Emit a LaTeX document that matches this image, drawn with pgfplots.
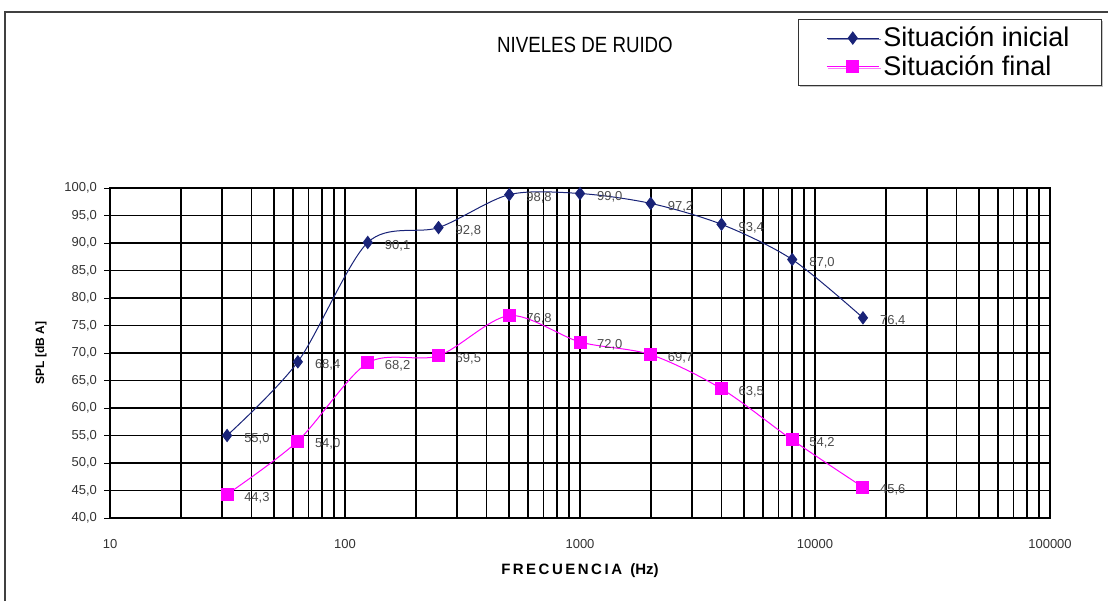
\documentclass[border=0pt]{standalone}
\usepackage{pgfplots}
\pgfplotsset{compat=1.18}
\usetikzlibrary{shadows}
\usepackage{fontspec}
\setmainfont{Liberation Sans}
\definecolor{navyline}{RGB}{25,35,120}
\definecolor{mag}{RGB}{255,0,255}

\begin{document}
\begin{tikzpicture}
\useasboundingbox (0,0) rectangle (554pt,300.5pt);
% frame around the chart
\draw[line width=1.2pt, black!75] (2.5pt,0) -- (2.5pt,294.5pt) -- (554pt,294.5pt);
\node[font=\fontsize{11}{13}\selectfont, xscale=0.85] at (292.5pt,278pt) {NIVELES DE RUIDO};
\begin{axis}[
    at={(55pt,41.5pt)}, anchor=south west,
    scale only axis, width=470pt, height=165pt,
    xmode=log, log basis x=10,
    xmin=10, xmax=100000, ymin=40, ymax=100,
    ytick={40,45,...,100},
    xtick={10,100,1000,10000,100000},
    xticklabels={10,100,1000,10000,100000},
    minor xtick={20,30,40,50,60,70,80,90,200,300,400,500,600,700,800,900,2000,3000,4000,5000,6000,7000,8000,9000,20000,30000,40000,50000,60000,70000,80000,90000},
    grid=both,
    major grid style={black, line width=0.8pt},
    minor grid style={black, line width=0.8pt},
    axis line style={black, line width=0.6pt},
    x tick style={draw=none}, minor x tick style={draw=none},
    y tick style={black, line width=0.5pt},
    ytick pos=left, tick align=outside, major tick length=3pt,
    tick label style={font=\fontsize{6.5}{8}\selectfont, text=black!80},
    yticklabel style={/pgf/number format/.cd, fixed, fixed zerofill, precision=1, use comma, assume math mode=true},
    xticklabel style={yshift=-4pt},
    xlabel={\textbf{F\,R\,E\,C\,U\,E\,N\,C\,I\,A\ \ (Hz)}},
    xlabel style={font=\fontsize{7.5}{9}\selectfont, yshift=-1pt},
    ylabel={\textbf{SPL [dB A]}},
    ylabel style={font=\fontsize{6}{8}\selectfont, yshift=2pt},
    legend image code/.code={\draw[mark repeat=2, mark phase=2, #1]
        plot coordinates {(0pt,0pt) (13pt,0pt) (26pt,0pt)};},
    legend style={at={(1.0553,1.5121)}, anchor=north east, draw=black!80, line width=0.6pt,
        font=\fontsize{13.5}{14}\selectfont, row sep=-1pt, inner xsep=14pt, inner ysep=1.5pt,
        nodes={inner xsep=2pt},
        drop shadow={shadow xshift=0.8pt, shadow yshift=-0.8pt, fill=black!45}},
    legend cell align=left,
    nodes near coords,
    every node near coord/.append style={anchor=west, xshift=5pt, yshift=-1.5pt,
        font=\fontsize{6.5}{8}\selectfont, text=black!70,
        /pgf/number format/.cd, fixed, fixed zerofill, precision=1, use comma, assume math mode=true},
]
\addplot[navyline, line width=0.5pt, smooth, tension=0.5, mark=diamond*, mark size=3pt,
    mark options={fill=navyline, solid}] coordinates {
    (31.5,55.0) (63,68.4) (125,90.1) (250,92.8) (500,98.8)
    (1000,99.0) (2000,97.2) (4000,93.4) (8000,87.0) (16000,76.4)
};
\addlegendentry{Situación inicial}
\addplot[mag, line width=0.5pt, smooth, tension=0.5, mark=square*, mark size=3pt,
    mark options={fill=mag, solid}] coordinates {
    (31.5,44.3) (63,54.0) (125,68.2) (250,69.5) (500,76.8)
    (1000,72.0) (2000,69.7) (4000,63.5) (8000,54.2) (16000,45.6)
};
\addlegendentry{Situación final}
\end{axis}
\end{tikzpicture}
\end{document}
